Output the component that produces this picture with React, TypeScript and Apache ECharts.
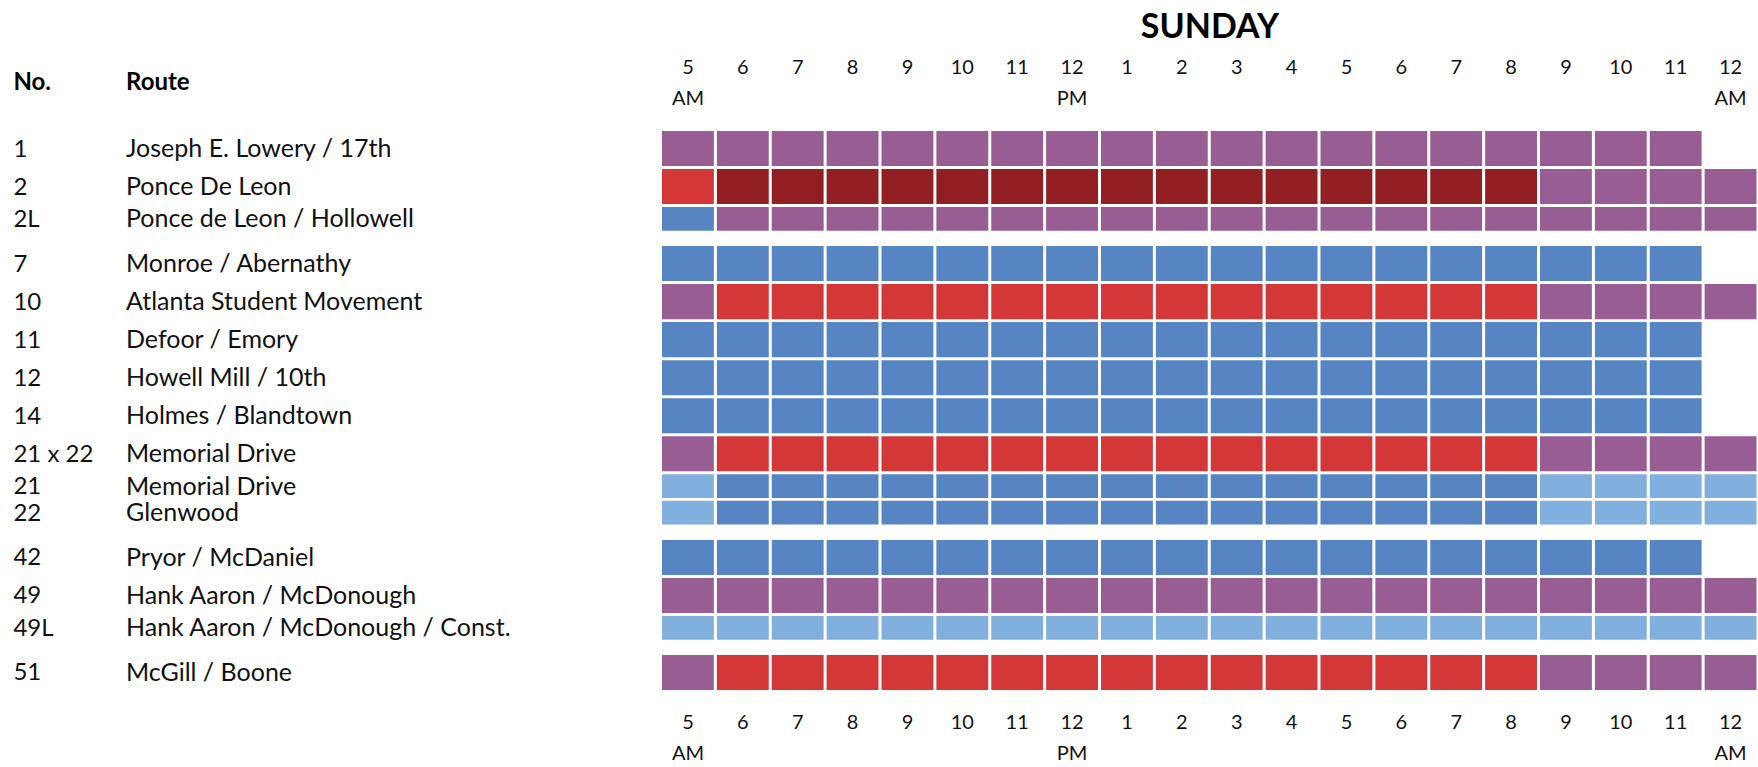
import React, { useEffect, useRef } from "react";
import * as echarts from "echarts";

const dayTitle = "SUNDAY";
const headerNo = "No.";
const headerRoute = "Route";

// hour slots from 5 AM to 12 AM (next day)
const hourSlots = [
  "5 AM", "6 AM", "7 AM", "8 AM", "9 AM", "10 AM", "11 AM", "12 PM",
  "1 PM", "2 PM", "3 PM", "4 PM", "5 PM", "6 PM", "7 PM", "8 PM",
  "9 PM", "10 PM", "11 PM", "12 AM",
];

const routeNumbers = ["1", "2", "2L", "7", "10", "11", "12", "14", "21 x 22", "21", "22", "42", "49", "49L", "51"];
const routeNames = [
  "Joseph E. Lowery / 17th",
  "Ponce De Leon",
  "Ponce de Leon / Hollowell",
  "Monroe / Abernathy",
  "Atlanta Student Movement",
  "Defoor / Emory",
  "Howell Mill / 10th",
  "Holmes / Blandtown",
  "Memorial Drive",
  "Memorial Drive",
  "Glenwood",
  "Pryor / McDaniel",
  "Hank Aaron / McDonough",
  "Hank Aaron / McDonough / Const.",
  "McGill / Boone",
];
// row kind: full-height or half-height row
const rowKinds = ["full", "full", "half", "full", "full", "full", "full", "full", "full", "half", "half", "full", "full", "half", "full"];
// visual group of each row
const rowGroups = [0, 0, 0, 1, 1, 1, 1, 1, 1, 1, 1, 2, 2, 2, 3];

// service level per hour slot: P purple, D dark red, R red, B blue, L light blue, . none
const serviceLevels = [
  "PPPPPPPPPPPPPPPPPPP.",
  "RDDDDDDDDDDDDDDDPPPP",
  "BPPPPPPPPPPPPPPPPPPP",
  "BBBBBBBBBBBBBBBBBBB.",
  "PRRRRRRRRRRRRRRRPPPP",
  "BBBBBBBBBBBBBBBBBBB.",
  "BBBBBBBBBBBBBBBBBBB.",
  "BBBBBBBBBBBBBBBBBBB.",
  "PRRRRRRRRRRRRRRRPPPP",
  "LBBBBBBBBBBBBBBBLLLL",
  "LBBBBBBBBBBBBBBBLLLL",
  "BBBBBBBBBBBBBBBBBBB.",
  "PPPPPPPPPPPPPPPPPPPP",
  "LLLLLLLLLLLLLLLLLLLL",
  "PRRRRRRRRRRRRRRRPPPP",
];

const levelCodes = ["P", "D", "R", "B", "L"];
const levelColors = ["#985E94", "#922022", "#D33738", "#5785C3", "#81AFDE"];

// layout (pixels in y-axis units)
const FULL_H = 35.5;
const HALF_H = 24;
const ROW_GAP = 3;
const GROUP_GAP = 15.5;
const GRID_TOP = 131;
const FONT = "Lato, 'Open Sans', sans-serif";

const rowTop: number[] = [];
const rowH: number[] = [];
let cursor = 0;
rowKinds.forEach((k, i) => {
  if (i > 0) cursor += rowGroups[i] !== rowGroups[i - 1] ? GROUP_GAP : ROW_GAP;
  const h = k === "full" ? FULL_H : HALF_H;
  rowTop.push(cursor);
  rowH.push(h);
  cursor += h;
});
const TOTAL = cursor;

const cellData: number[][] = [];
serviceLevels.forEach((s, r) => {
  s.split("").forEach((c, col) => {
    const idx = levelCodes.indexOf(c);
    if (idx >= 0) cellData.push([col, r, idx]);
  });
});
const labelData = routeNumbers.map((_, i) => [0, i]);

const hourFormatter = (v: string, idx: number) => {
  const [h, m] = v.split(" ");
  const showM = idx === 0 || h === "12";
  return h + "\n" + (showM ? m : " ");
};

export default function App() {
  const ref = useRef<HTMLDivElement>(null);
  useEffect(() => {
    if (!ref.current) return;
    const chart = echarts.init(ref.current, null, { renderer: "svg" });
    const axisCommon = {
      type: "category" as const,
      data: hourSlots,
      axisLine: { show: false },
      axisTick: { show: false },
      splitLine: { show: false },
      axisLabel: {
        interval: 0,
        formatter: hourFormatter,
        fontFamily: FONT,
        fontSize: 20,
        lineHeight: 31,
        color: "#111",
      },
    };
    chart.setOption({
      animation: false,
      backgroundColor: "#fff",
      grid: { left: 660.5, right: -2.5, top: GRID_TOP, height: TOTAL, containLabel: false },
      xAxis: [
        { ...axisCommon, position: "top", axisLabel: { ...axisCommon.axisLabel, margin: 19 } },
        { ...axisCommon, position: "bottom", axisLabel: { ...axisCommon.axisLabel, margin: 15 } },
      ],
      yAxis: { type: "value", min: 0, max: TOTAL, inverse: true, show: false },
      graphic: [
        {
          type: "text",
          x: 1210,
          y: 24,
          style: { text: dayTitle, fontFamily: FONT, fontWeight: "bold", fontSize: 34, fill: "#000", align: "center", verticalAlign: "middle" },
        },
        {
          type: "text",
          x: 13.4,
          y: 80,
          style: { text: headerNo, fontFamily: FONT, fontWeight: "bold", fontSize: 24, fill: "#000", align: "left", verticalAlign: "middle" },
        },
        {
          type: "text",
          x: 126,
          y: 80,
          style: { text: headerRoute, fontFamily: FONT, fontWeight: "bold", fontSize: 24, fill: "#000", align: "left", verticalAlign: "middle" },
        },
      ],
      series: [
        {
          type: "custom",
          xAxisIndex: 0,
          clip: false,
          data: cellData,
          renderItem: (params: any, api: any) => {
            const col = api.value(0);
            const row = api.value(1);
            const ci = api.value(2);
            const cx = api.coord([col, 0])[0];
            const band = api.size([1, 0])[0];
            const y0 = api.coord([col, rowTop[row]])[1];
            const y1 = api.coord([col, rowTop[row] + rowH[row]])[1];
            const w = band - 3;
            return {
              type: "rect",
              shape: { x: cx - w / 2, y: y0, width: w, height: y1 - y0 },
              style: { fill: levelColors[ci] },
            };
          },
        },
        {
          type: "custom",
          xAxisIndex: 0,
          clip: false,
          data: labelData,
          renderItem: (params: any, api: any) => {
            const row = api.value(1);
            const yc = api.coord([0, rowTop[row] + rowH[row] / 2])[1] - 1.5;
            return {
              type: "group",
              children: [
                {
                  type: "text",
                  x: 13.4,
                  y: yc,
                  style: { text: routeNumbers[row], fontFamily: FONT, fontSize: 24, fill: "#111", align: "left", verticalAlign: "middle" },
                },
                {
                  type: "text",
                  x: 126,
                  y: yc,
                  style: { text: routeNames[row], fontFamily: FONT, fontSize: 25, fill: "#111", align: "left", verticalAlign: "middle" },
                },
              ],
            };
          },
        },
      ],
    });
    return () => chart.dispose();
  }, []);
  return <div ref={ref} style={{ position: "fixed", left: 0, top: 0, width: 1758, height: 767 }} />;
}
